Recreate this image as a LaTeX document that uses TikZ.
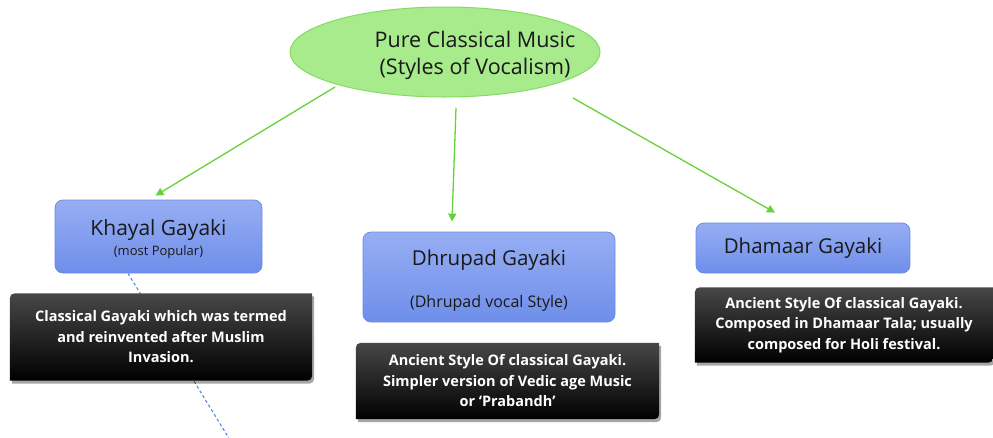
\documentclass[tikz,border=0pt]{standalone}
\usepackage{fontspec}
\setmainfont{Open Sans}
\usetikzlibrary{shapes.geometric,calc,arrows.meta,shadows}
\pgfdeclarelayer{under}
\pgfdeclarelayer{panel}
\pgfsetlayers{under,panel,main}

\definecolor{titlefill}{HTML}{A8EB8C}
\definecolor{titleline}{HTML}{86DB62}
\definecolor{arrowgreen}{HTML}{66D13A}
\definecolor{boxtop}{HTML}{97AEF3}
\definecolor{boxbottom}{HTML}{6E8EEA}
\definecolor{boxline}{HTML}{6A8AE8}
\definecolor{dashblue}{HTML}{4A7BE0}

\tikzset{
  titleshape/.style={ellipse, fill=titlefill, draw=titleline, line width=1pt,
    minimum width=310, minimum height=90, inner sep=0pt},
  titletext/.style={align=center, font=\fontsize{21.5}{27}\selectfont, text=black!90},
  stylebox/.style={rounded corners=8pt, top color=boxtop, bottom color=boxbottom,
    draw=boxline, line width=0.8pt, align=center, inner sep=0pt, text=black!90},
  noteText/.style={align=center, text=white, inner sep=0pt,
    font=\bfseries\fontsize{14.5}{20.5}\selectfont},
  notepanel/.style={top color=black!72, middle color=black, bottom color=black,
    drop shadow={shadow xshift=2pt, shadow yshift=-3pt, opacity=0.35, fill=black}},
  link/.style={arrowgreen, line width=1.3pt, -{Triangle[length=8pt,width=8pt]}},
  trail/.style={dashblue, line width=1pt, dash pattern=on 3pt off 2.5pt},
}

% dark note panel: top-left and bottom-right corners rounded
\newcommand{\notepanel}[1]{%
  \begin{pgfonlayer}{panel}
    \path[notepanel] (#1.south west) -- ($(#1.north west)+(0,11)$)
      .. controls (#1.north west) .. ($(#1.north west)+(11,0)$)
      -- (#1.north east) -- ($(#1.south east)+(0,-11)$)
      .. controls (#1.south east) .. ($(#1.south east)+(-11,0)$) -- cycle;
  \end{pgfonlayer}}

\begin{document}
\begin{tikzpicture}[x=1pt, y=-1pt]
  \useasboundingbox (0,0) rectangle (993,437);

  % root
  \node[titleshape] (top) at (445,52) {};
  \node[titletext] (toptext) at (475,55) {Pure Classical Music\\(Styles of Vocalism)};

  % the three styles
  \node[stylebox, minimum width=207, minimum height=73] (khayal) at (158.5,236.5)
    {\fontsize{21}{24}\selectfont\rule{0pt}{22pt}Khayal Gayaki\\[4pt]\fontsize{13}{16}\selectfont (most Popular)};
  \node[stylebox, minimum width=252, minimum height=90] (dhrupad) at (489,277)
    {\fontsize{20.5}{24}\selectfont\rule{0pt}{23.5pt}Dhrupad Gayaki\\[24pt]\fontsize{16}{18}\selectfont (Dhrupad vocal Style)};
  \node[stylebox, minimum width=214, minimum height=50] (dhamaar) at (803,248)
    {\fontsize{20.5}{24}\selectfont Dhamaar Gayaki};

  % notes
  \node[noteText, minimum width=302, minimum height=87] (knote) at (161,337)
    {Classical Gayaki which was termed\\and reinvented after Muslim\\Invasion.};
  \node[noteText, minimum width=303, minimum height=76] (dnote) at (507.5,381)
    {Ancient Style Of classical Gayaki.\\Simpler version of Vedic age Music\\or `Prabandh'};
  \node[noteText, minimum width=298, minimum height=75] (mnote) at (844,325)
    {Ancient Style Of classical Gayaki.\\Composed in Dhamaar Tala; usually\\composed for Holi festival.};
  \notepanel{knote}
  \notepanel{dnote}
  \notepanel{mnote}

  % connectors
  \draw[link] ($(top.center)+(-110,35)$) -- ($(khayal.north)+(-3,-4)$);
  \draw[link] ($(top.center)+(11,56)$) -- ($(dhrupad.north)+(-37,-10)$);
  \draw[link] ($(top.center)+(128,46)$) -- ($(dhamaar.north)+(-28,-10)$);

  \coordinate (trailend) at (230,440);
  \begin{pgfonlayer}{under}
    \draw[trail] ($(khayal.south)+(-30.5,0)$) -- (trailend);
  \end{pgfonlayer}
\end{tikzpicture}
\end{document}
